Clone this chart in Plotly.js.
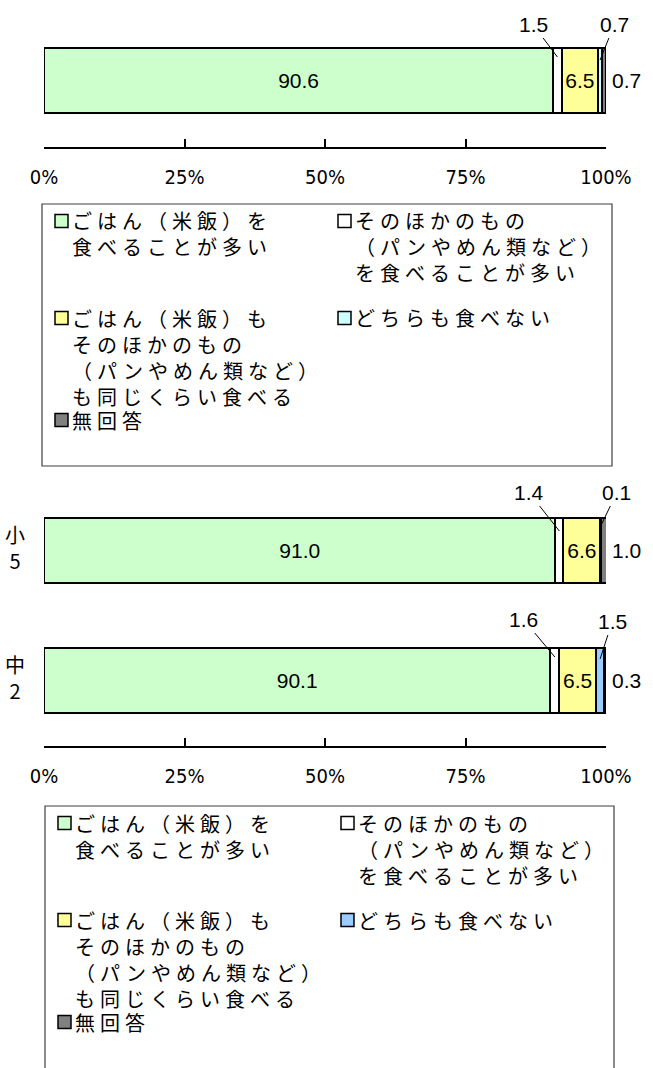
<!DOCTYPE html>
<html>
<head>
<meta charset="utf-8">
<script src="https://cdn.plot.ly/plotly-3.0.1.min.js"></script>
<style>
  html, body { margin: 0; padding: 0; background: #fff; }
  #chart { width: 653px; height: 1068px; }
</style>
</head>
<body>
<div id="chart"></div>
<script>
// 回答カテゴリ（凡例の順）
var seriesNames = [
  ['ごはん（米飯）を', '食べることが多い'],
  ['そのほかのもの', '（パンやめん類など）', 'を食べることが多い'],
  ['ごはん（米飯）も', 'そのほかのもの', '（パンやめん類など）', 'も同じくらい食べる'],
  ['どちらも食べない'],
  ['無回答']
]
var topColors = ['#ccffcc', '#ffffff', '#ffff99', '#ccffff', '#808080']
var bottomColors = ['#ccffcc', '#ffffff', '#ffff99', '#99ccff', '#808080']

// 上のグラフ
var topValues = [90.6, 1.5, 6.5, 0.7, 0.7]

// 下のグラフ（学年別）
var grades = ['小5', '中2']
var gradeLabels = ['小<br>5', '中<br>2']
var gradeValues = [
  [91.0, 90.1],
  [1.4, 1.6],
  [6.6, 6.5],
  [0.1, 1.5],
  [1.0, 0.3]
]

var tickVals = [0, 25, 50, 75, 100]
var tickText = ['0%', '25%', '50%', '75%', '100%']

var W = 653, H = 1068
function px (x) { return x / W }
function py (y) { return 1 - y / H }

var numFont = { family: 'Liberation Sans, Arial, sans-serif', size: 21, color: '#000' }
var jpFont = { family: 'Noto Sans CJK JP, sans-serif', size: 20, color: '#000' }
var BAR_W = 0.5

var data = []
// segments that get their value written inside the bar
var inside = [true, false, true, false, false]

for (var i = 0; i < topValues.length; i++) {
  data.push({
    type: 'bar',
    orientation: 'h',
    x: [topValues[i]],
    y: [0],
    xaxis: 'x',
    yaxis: 'y',
    width: BAR_W,
    marker: { color: topColors[i], line: { color: '#000', width: 2 } },
    text: [topValues[i].toFixed(1)],
    textposition: inside[i] ? 'inside' : 'none',
    insidetextanchor: 'middle',
    constraintext: 'none',
    textfont: numFont,
    hoverinfo: 'none',
    showlegend: false
  })
}
for (var i = 0; i < gradeValues.length; i++) {
  data.push({
    type: 'bar',
    orientation: 'h',
    x: gradeValues[i],
    y: grades,
    xaxis: 'x2',
    yaxis: 'y2',
    width: BAR_W,
    marker: { color: bottomColors[i], line: { color: '#000', width: 2 } },
    text: gradeValues[i].map(function (v) { return v.toFixed(1) }),
    textposition: inside[i] ? 'inside' : 'none',
    insidetextanchor: 'middle',
    constraintext: 'none',
    textfont: numFont,
    hoverinfo: 'none',
    showlegend: false
  })
}

var annotations = []
var shapes = []

// small segment labels with leader lines, tip pushed `depth` px into the bar
function leader (xa, ya, yval, vals, idx, depth, ax, ay) {
  var start = 0
  for (var k = 0; k < idx; k++) start += vals[k]
  annotations.push({
    xref: xa, yref: ya,
    x: start + vals[idx] / 2, y: yval,
    yshift: -depth,
    text: vals[idx].toFixed(1),
    font: numFont,
    showarrow: true, arrowhead: 0, arrowwidth: 1, arrowcolor: '#000',
    standoff: 0,
    ax: ax, ay: ay
  })
}
function rightLabel (xa, ya, yval, vals, idx) {
  var sum = 0
  for (var k = 0; k < vals.length; k++) sum += vals[k]
  annotations.push({
    xref: xa, yref: ya,
    x: Math.min(sum, 100), y: yval,
    xanchor: 'left', xshift: 4,
    text: vals[idx].toFixed(1),
    font: numFont,
    showarrow: false
  })
}

leader('x', 'y', BAR_W / 2, topValues, 1, 9, -24, -32)
leader('x', 'y', BAR_W / 2, topValues, 3, 12, 14, -35)
rightLabel('x', 'y', 0, topValues, 4)

var g5 = gradeValues.map(function (s) { return s[0] })
var g2 = gradeValues.map(function (s) { return s[1] })
leader('x2', 'y2', 0 - BAR_W / 2, g5, 1, 13, -30, -38)
leader('x2', 'y2', 0 - BAR_W / 2, g5, 3, 8, 16, -33)
rightLabel('x2', 'y2', 0, g5, 4)
leader('x2', 'y2', 1 - BAR_W / 2, g2, 1, 9, -31, -37)
leader('x2', 'y2', 1 - BAR_W / 2, g2, 3, 11, 12, -37)
rightLabel('x2', 'y2', 1, g2, 4)

// grade labels on the left
for (var i = 0; i < grades.length; i++) {
  annotations.push({
    xref: 'paper', yref: 'y2',
    x: px(15), y: grades[i], yshift: 3,
    xanchor: 'center',
    text: gradeLabels[i], align: 'center',
    font: jpFont, showarrow: false
  })
}

// legend boxes
function legend (dx, dy, colors, boxRight, boxBottom) {
  shapes.push({
    type: 'rect', xref: 'paper', yref: 'paper',
    x0: px(42 + dx), x1: px(boxRight), y0: py(boxBottom), y1: py(204 + dy),
    line: { color: '#404040', width: 1.2 }, fillcolor: 'rgba(0,0,0,0)'
  })
  var cols = [55, 338]
  var pos = [[0, 221], [1, 221], [0, 318], [1, 318], [0, 420]]
  for (var i = 0; i < seriesNames.length; i++) {
    var cx = cols[pos[i][0]] + dx
    var cy = pos[i][1] + dy
    var n = seriesNames[i].length
    shapes.push({
      type: 'rect', xref: 'paper', yref: 'paper',
      x0: px(cx), x1: px(cx + 13), y0: py(cy + 6.5), y1: py(cy - 6.5),
      line: { color: '#000', width: 1.5 }, fillcolor: colors[i]
    })
    annotations.push({
      xref: 'paper', yref: 'paper',
      x: px(cx + 16), y: py(cy + (n - 1) * 13),
      xanchor: 'left', yanchor: 'middle', align: 'left',
      borderpad: 0,
      text: seriesNames[i].map(function (s) {
        return '<span style="letter-spacing:5px">' + s + '</span>'
      }).join('<br>'),
      font: jpFont, showarrow: false
    })
  }
}
legend(0, 0, topColors, 612, 466)
legend(3, 602, bottomColors, 614, 1090)

var axisBase = {
  range: [0, 100],
  tickvals: tickVals,
  ticktext: tickText,
  ticks: 'inside',
  ticklen: 8,
  tickwidth: 2,
  tickcolor: '#000',
  showline: true,
  linecolor: '#000',
  linewidth: 2,
  showgrid: false,
  zeroline: false,
  ticklabelstandoff: 11,
  tickfont: { family: 'Liberation Sans Narrow, Arial Narrow, DejaVu Sans Condensed, sans-serif', size: 20, color: '#000' },
  fixedrange: true
}

var layout = {
  width: W,
  height: H,
  margin: { l: 0, r: 0, t: 0, b: 0 },
  paper_bgcolor: '#fff',
  plot_bgcolor: 'rgba(0,0,0,0)',
  barmode: 'stack',
  xaxis: Object.assign({}, axisBase, {
    domain: [px(44), px(606)], anchor: 'free', position: py(148)
  }),
  yaxis: {
    domain: [py(145.5), py(15.5)], range: [-0.5, 0.5],
    showticklabels: false, showgrid: false, zeroline: false, showline: false, fixedrange: true
  },
  xaxis2: Object.assign({}, axisBase, {
    domain: [px(44), px(606)], anchor: 'free', position: py(747)
  }),
  yaxis2: {
    domain: [py(745.5), py(485.5)], type: 'category', categoryarray: grades,
    range: [1.5, -0.5],
    showticklabels: false, showgrid: false, zeroline: false, showline: false, fixedrange: true
  },
  annotations: annotations,
  shapes: shapes
}

Plotly.newPlot('chart', data, layout, { staticPlot: true, displayModeBar: false })
</script>
</body>
</html>
